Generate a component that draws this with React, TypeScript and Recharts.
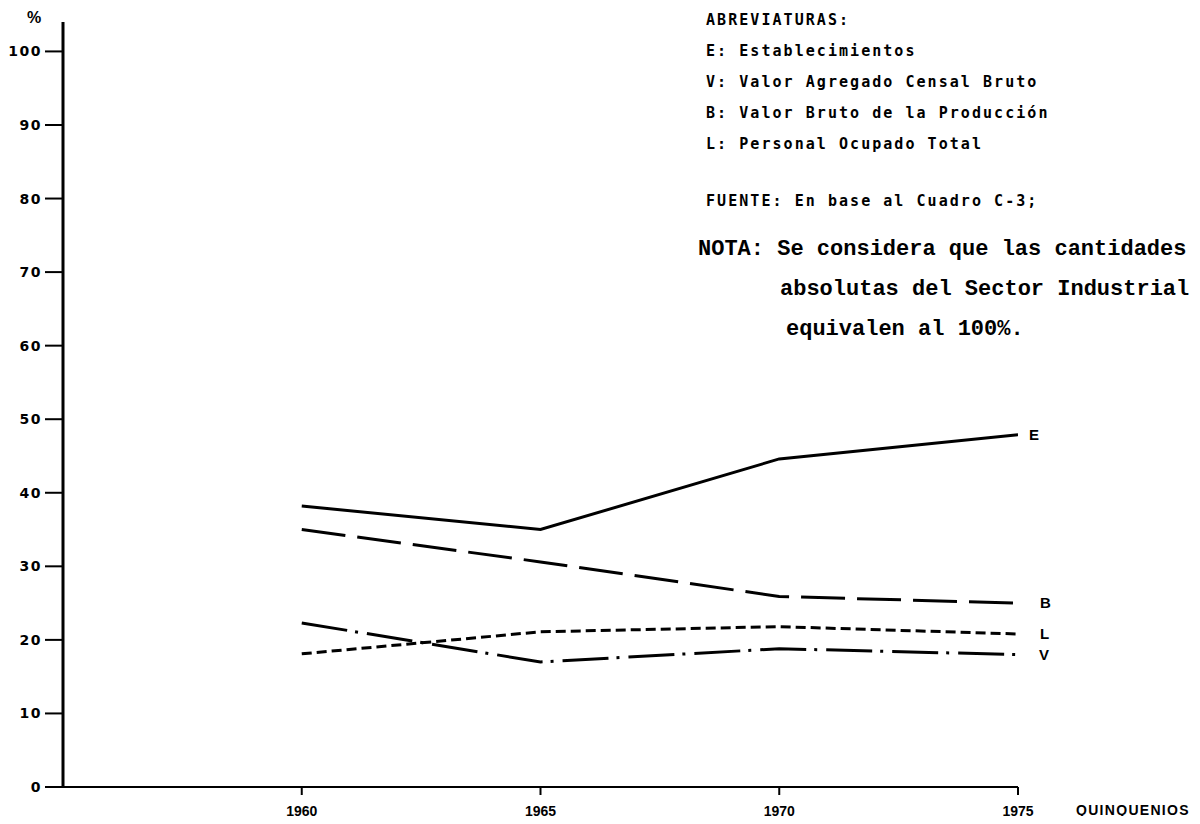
import { LineChart, Line, XAxis, YAxis, LabelList } from "recharts";

const years = [1960, 1965, 1970, 1975];
const establecimientos = [38.2, 35.0, 44.6, 47.9];
const valorBruto = [35.0, 30.6, 25.9, 25.0];
const personal = [18.1, 21.1, 21.8, 20.8];
const valorAgregado = [22.3, 17.0, 18.8, 18.0];
const yTicks = [0, 10, 20, 30, 40, 50, 60, 70, 80, 90, 100];

const abreviaturas = [
  "E: Establecimientos",
  "V: Valor Agregado Censal Bruto",
  "B: Valor Bruto de la Producción",
  "L: Personal Ocupado Total",
];

const data = years.map((year, i) => ({
  year,
  E: establecimientos[i],
  B: valorBruto[i],
  L: personal[i],
  V: valorAgregado[i],
}));

const sansFont = "'Liberation Sans', 'DejaVu Sans', sans-serif";
const typeFont = "'DejaVu Sans Mono', monospace";
const monoFont = "'Liberation Mono', 'Courier New', monospace";

const endLabel = (text: string, dx: number) => (props: any) => {
  if (props.index !== data.length - 1) return null;
  return (
    <text x={props.x + dx} y={props.y} dy={5} fontFamily={sansFont} fontWeight="bold" fontSize={15} fill="#000">
      {text}
    </text>
  );
};

export default function App() {
  const yTick = { fontFamily: "'DejaVu Sans', sans-serif", fontWeight: "bold", fontSize: 14, letterSpacing: 1.5, fill: "#000" };
  const xTick = { fontFamily: sansFont, fontWeight: "bold", fontSize: 14, fill: "#000" };
  const typeText = { fontFamily: typeFont, fontWeight: "bold", fontSize: 15, letterSpacing: 2.05, fill: "#000" } as const;
  const monoText = { fontFamily: monoFont, fontWeight: "bold", fontSize: 22, fill: "#000" } as const;
  return (
    <div style={{ position: "relative", width: 1184, height: 816, marginBottom: -8, background: "#fff" }}>
      <LineChart width={1184} height={816} data={data} margin={{ top: 14, right: 174, bottom: 0, left: 0 }}>
        <XAxis
          dataKey="year"
          type="number"
          domain={[1955, 1975]}
          ticks={years}
          allowDataOverflow
          axisLine={{ stroke: "#000", strokeWidth: 2 }}
          tickLine={{ stroke: "#000", strokeWidth: 2 }}
          tickSize={8}
          tickMargin={11}
          height={37}
          tick={xTick}
        />
        <YAxis
          type="number"
          domain={[0, 104]}
          ticks={yTicks}
          allowDataOverflow
          axisLine={{ stroke: "#000", strokeWidth: 3 }}
          tickLine={{ stroke: "#000", strokeWidth: 2 }}
          tickSize={18}
          tickMargin={3}
          width={55}
          tick={yTick}
        />
        <Line dataKey="E" type="linear" stroke="#000" strokeWidth={3} dot={false} isAnimationActive={false}>
          <LabelList dataKey="E" content={endLabel("E", 11)} />
        </Line>
        <Line dataKey="B" type="linear" stroke="#000" strokeWidth={3} strokeDasharray="44 12" dot={false} isAnimationActive={false}>
          <LabelList dataKey="B" content={endLabel("B", 22)} />
        </Line>
        <Line dataKey="L" type="linear" stroke="#000" strokeWidth={3} strokeDasharray="10 5" dot={false} isAnimationActive={false}>
          <LabelList dataKey="L" content={endLabel("L", 22)} />
        </Line>
        <Line dataKey="V" type="linear" stroke="#000" strokeWidth={3} strokeDasharray="46 8 3 9" dot={false} isAnimationActive={false}>
          <LabelList dataKey="V" content={endLabel("V", 21)} />
        </Line>
      </LineChart>

      <svg width={1184} height={816} style={{ position: "absolute", left: 0, top: 0, pointerEvents: "none" }}>
        <text x={19} y={15} fontFamily={sansFont} fontWeight="bold" fontSize={16} fill="#000">%</text>
        <text x={1068} y={807} fontFamily={sansFont} fontWeight="bold" fontSize={14} letterSpacing={1.3} fill="#000">
          QUINQUENIOS
        </text>

        <text x={698} y={16.5} {...typeText}>ABREVIATURAS:</text>
        {abreviaturas.map((t, i) => (
          <text key={t} x={698} y={47.5 + i * 31} {...typeText}>
            {t}
          </text>
        ))}
        <text x={698} y={197.5} {...typeText}>FUENTE: En base al Cuadro C-3;</text>

        <text x={690} y={247} {...monoText}>NOTA: Se considera que las cantidades</text>
        <text x={772} y={287} {...monoText}>absolutas del Sector Industrial</text>
        <text x={778} y={327} {...monoText}>equivalen al 100%.</text>
      </svg>
    </div>
  );
}
